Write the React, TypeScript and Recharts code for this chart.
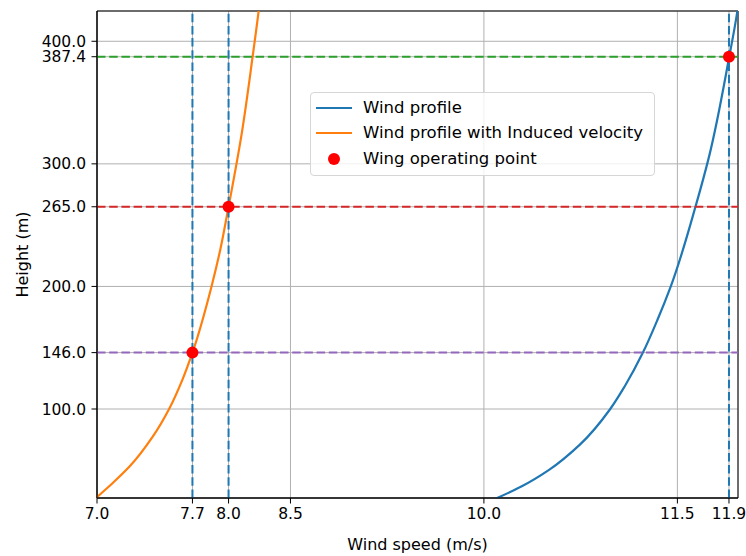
import React from 'react';
import {
  ComposedChart,
  Line,
  Scatter,
  XAxis,
  YAxis,
  CartesianGrid,
  ReferenceLine,
  ReferenceArea,
} from 'recharts';

// wind profile: speed (m/s) at each height (m)
const windHeight = [26.6, 36.7, 50.3, 70.7, 99.8, 118.2, 145.4, 172.6, 199.2, 264.9, 305.7, 387.4, 422.6, 436];
const windSpeed = [10.085, 10.29, 10.505, 10.742, 10.978, 11.09, 11.23, 11.345, 11.446, 11.64, 11.745, 11.902, 11.962, 11.98];

// wind profile with induced velocity
const inducedHeight = [27.2, 39.4, 53, 77.4, 99.8, 123.6, 146, 199.2, 229.6, 265, 324.7, 387.8, 425.3, 436];
const inducedSpeed = [6.99, 7.12, 7.252, 7.432, 7.558, 7.661, 7.74, 7.886, 7.955, 8.02, 8.122, 8.207, 8.254, 8.266];

// wing operating points
const opSpeed = [7.74, 8.02, 11.9];
const opHeight = [146, 265, 387.4];
const opLineColors = ['#9467bd', '#d62728', '#2ca02c'];

const xTicks = [7.0, 7.74, 8.02, 8.5, 10.0, 11.5, 11.9];
const yTicks = [100, 146, 200, 265, 300, 387.4, 400];
const xDomain = [7.0, 11.97];
const yDomain = [27.4, 424.7];

const windData = windHeight.map((height, i) => ({ height, speed: windSpeed[i] }));
const inducedData = inducedHeight.map((height, i) => ({ height, speed: inducedSpeed[i] }));
const opData = opSpeed.map((speed, i) => ({ speed, height: opHeight[i] }));

const FONT = '"DejaVu Sans", sans-serif';
const BLUE = '#1f77b4';
const ORANGE = '#ff7f0e';
const DASH = '8.5 3.7';
const TICK_SIZE = 15.5;
const LABEL_SIZE = 16;

const legendRows = [
  { label: 'Wind profile', kind: 'line', color: BLUE },
  { label: 'Wind profile with Induced velocity', kind: 'line', color: ORANGE },
  { label: 'Wing operating point', kind: 'dot', color: 'red' },
];

const LegendBox = () => (
  <div
    style={{
      position: 'absolute',
      left: 310,
      top: 92,
      width: 345,
      height: 84,
      boxSizing: 'border-box',
      border: '1px solid #d6d6d6',
      borderRadius: 4,
      background: 'rgba(255,255,255,0.8)',
      fontFamily: FONT,
      fontSize: 16.5,
      color: '#000',
    }}
  >
    {legendRows.map((row, i) => (
      <div key={row.label} style={{ position: 'absolute', left: 0, top: 14.7 + i * 25.6 - 11, height: 22, width: '100%' }}>
        <svg width={46} height={22} style={{ position: 'absolute', left: 0, top: 0 }}>
          {row.kind === 'line' ? (
            <line x1={5} x2={41} y1={11} y2={11} stroke={row.color} strokeWidth={2.2} />
          ) : (
            <circle cx={23} cy={11} r={6} fill={row.color} />
          )}
        </svg>
        <span style={{ position: 'absolute', left: 52, top: 0, lineHeight: '22px', whiteSpace: 'nowrap' }}>{row.label}</span>
      </div>
    ))}
  </div>
);

const App = () => {
  return (
    <div style={{ position: 'absolute', left: 0, top: 0, width: 746, height: 556, background: '#fff' }}>
      {/* vertical layout: curves are drawn as speed = f(height) */}
      <ComposedChart layout="vertical" width={746} height={556} margin={{ top: 11, right: 8, bottom: 0, left: 0 }}>
        <CartesianGrid stroke="#b0b0b0" strokeWidth={1} />
        <XAxis
          type="number"
          dataKey="speed"
          domain={xDomain}
          ticks={xTicks}
          allowDataOverflow
          interval={0}
          height={58}
          tickSize={5.5}
          tickMargin={4}
          tickFormatter={(v: number) => v.toFixed(1)}
          tick={{ fill: '#000', fontSize: TICK_SIZE, fontFamily: FONT }}
          stroke="#000"
          label={{
            content: ({ viewBox }: any) => (
              <text
                x={viewBox.x + viewBox.width / 2}
                y={viewBox.y + 46}
                textAnchor="middle"
                dominantBaseline="central"
                fontSize={LABEL_SIZE}
                fontFamily={FONT}
                fill="#000"
              >
                Wind speed (m/s)
              </text>
            ),
          }}
        />
        <YAxis
          type="number"
          dataKey="height"
          domain={yDomain}
          ticks={yTicks}
          reversed
          allowDataOverflow
          interval={0}
          width={97}
          tickSize={5.5}
          tickMargin={5.5}
          tickFormatter={(v: number) => v.toFixed(1)}
          tick={{ fill: '#000', fontSize: TICK_SIZE, fontFamily: FONT }}
          stroke="#000"
          label={{
            content: ({ viewBox }: any) => {
              const cx = viewBox.x + 22;
              const cy = viewBox.y + viewBox.height / 2;
              return (
                <text
                  x={cx}
                  y={cy}
                  transform={`rotate(-90 ${cx} ${cy})`}
                  textAnchor="middle"
                  dominantBaseline="central"
                  fontSize={LABEL_SIZE}
                  fontFamily={FONT}
                  fill="#000"
                >
                  Height (m)
                </text>
              );
            },
          }}
        />
        <Line
          data={windData}
          dataKey="speed"
          type="monotone"
          stroke={BLUE}
          strokeWidth={2.2}
          dot={false}
          activeDot={false}
          isAnimationActive={false}
        />
        <Line
          data={inducedData}
          dataKey="speed"
          type="monotone"
          stroke={ORANGE}
          strokeWidth={2.2}
          dot={false}
          activeDot={false}
          isAnimationActive={false}
        />
        <Scatter
          data={opData}
          fill="red"
          isAnimationActive={false}
          shape={(p: any) => <circle cx={p.cx} cy={p.cy} r={6} fill="red" />}
        />
        {opHeight.map((h, i) => (
          <ReferenceLine key={`h${h}`} y={h} stroke={opLineColors[i]} strokeWidth={2} strokeDasharray={DASH} />
        ))}
        {opSpeed.map((s) => (
          <ReferenceLine key={`v${s}`} x={s} stroke={BLUE} strokeWidth={2} strokeDasharray={DASH} />
        ))}
        <ReferenceArea
          x1={xDomain[0]}
          x2={xDomain[1]}
          y1={yDomain[0]}
          y2={yDomain[1]}
          fill="none"
          stroke="#000"
          strokeWidth={1}
          ifOverflow="visible"
        />
      </ComposedChart>
      <LegendBox />
    </div>
  );
};

export default App;
